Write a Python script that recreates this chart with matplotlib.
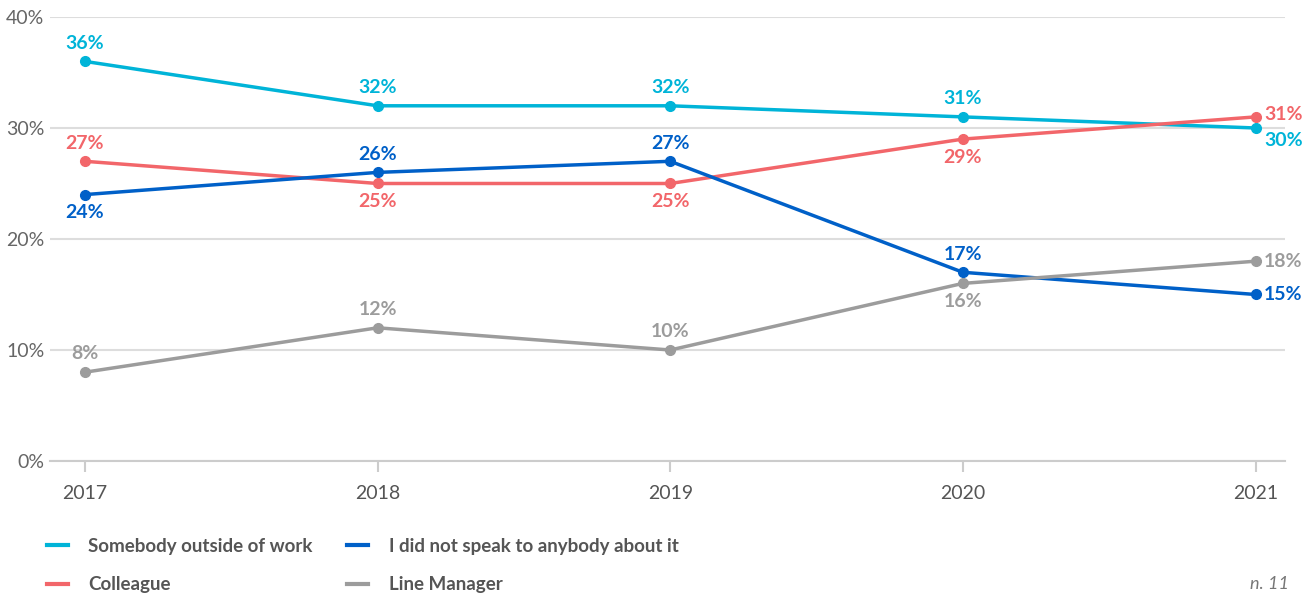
import matplotlib.pyplot as plt
from matplotlib.lines import Line2D

years = ["2017", "2018", "2019", "2020", "2021"]
outside = [36, 32, 32, 31, 30]
not_spoken = [24, 26, 27, 17, 15]
colleague = [27, 25, 25, 29, 31]
manager = [8, 12, 10, 16, 18]

names = ["Somebody outside of work", "Colleague",
         "I did not speak to anybody about it", "Line Manager"]
colors = ["#00b4d8", "#f2666a", "#0060c8", "#9c9c9c"]
series = [outside, colleague, not_spoken, manager]
# label position per point: 'a' above, 'b' below, 'r' right (last point)
places = [
    ["a", "a", "a", "a", "rb"],
    ["a", "b", "b", "b", "ra"],
    ["b", "a", "a", "a", "r"],
    ["a", "a", "a", "b", "r"],
]

plt.rcParams["font.family"] = ["Lato", "DejaVu Sans"]

fig = plt.figure(figsize=(13.11, 5.96), dpi=100)
ax = fig.add_axes([0.038, 0.2265, 0.942, 0.745])
x = list(range(len(years)))

for vals, col, pl in zip(series, colors, places):
    ax.plot(x, vals, color=col, lw=2.5, marker="o", ms=7, zorder=3,
            solid_capstyle="round")
    for xi, v, p in zip(x, vals, pl):
        txt = f"{v}%"
        kw = dict(textcoords="offset points", color=col, fontsize=14,
                  fontweight="bold")
        if p == "a":
            ax.annotate(txt, (xi, v), xytext=(0, 7), ha="center",
                        va="bottom", **kw)
        elif p == "b":
            ax.annotate(txt, (xi, v), xytext=(0, -7), ha="center",
                        va="top", **kw)
        else:
            dy = {"r": 0, "ra": 2, "rb": -9}[p]
            ax.annotate(txt, (xi, v), xytext=(6, dy), ha="left",
                        va="center", **kw)

ax.set_xlim(-0.12, 4.1)
ax.set_ylim(0, 40)
ax.set_yticks([0, 10, 20, 30, 40])
ax.set_yticklabels([f"{t}%" for t in [0, 10, 20, 30, 40]])
ax.set_xticks(x)
ax.set_xticklabels(years)
ax.grid(axis="y", color="#dddddd", lw=1.5)
ax.set_axisbelow(True)
for s in ["top", "right", "left"]:
    ax.spines[s].set_visible(False)
ax.spines["bottom"].set_color("#cccccc")
ax.spines["bottom"].set_linewidth(1.5)
ax.tick_params(axis="y", length=0, pad=4, labelsize=14, labelcolor="#666666")
ax.tick_params(axis="x", length=8, width=1.5, color="#cccccc", labelsize=14,
               labelcolor="#555555", pad=9)

kw = dict(frameon=False, handlelength=1.1, handletextpad=1.1,
          labelspacing=1.15, borderaxespad=0, borderpad=0,
          prop={"weight": "bold", "size": 13.5})
handles = [Line2D([], [], color=c, lw=3) for c in colors]
leg1 = fig.legend(handles[:2], names[:2], loc="upper left",
                  bbox_to_anchor=(0.036, 0.098), **kw)
leg2 = fig.legend(handles[2:], names[2:], loc="upper left",
                  bbox_to_anchor=(0.265, 0.098), **kw)
for leg in (leg1, leg2):
    for t in leg.get_texts():
        t.set_color("#555555")

fig.text(0.983, 0.006, "n. 11", ha="right", va="bottom", fontsize=13,
         style="italic", color="#777777")

fig.savefig("out.png", dpi=100)
